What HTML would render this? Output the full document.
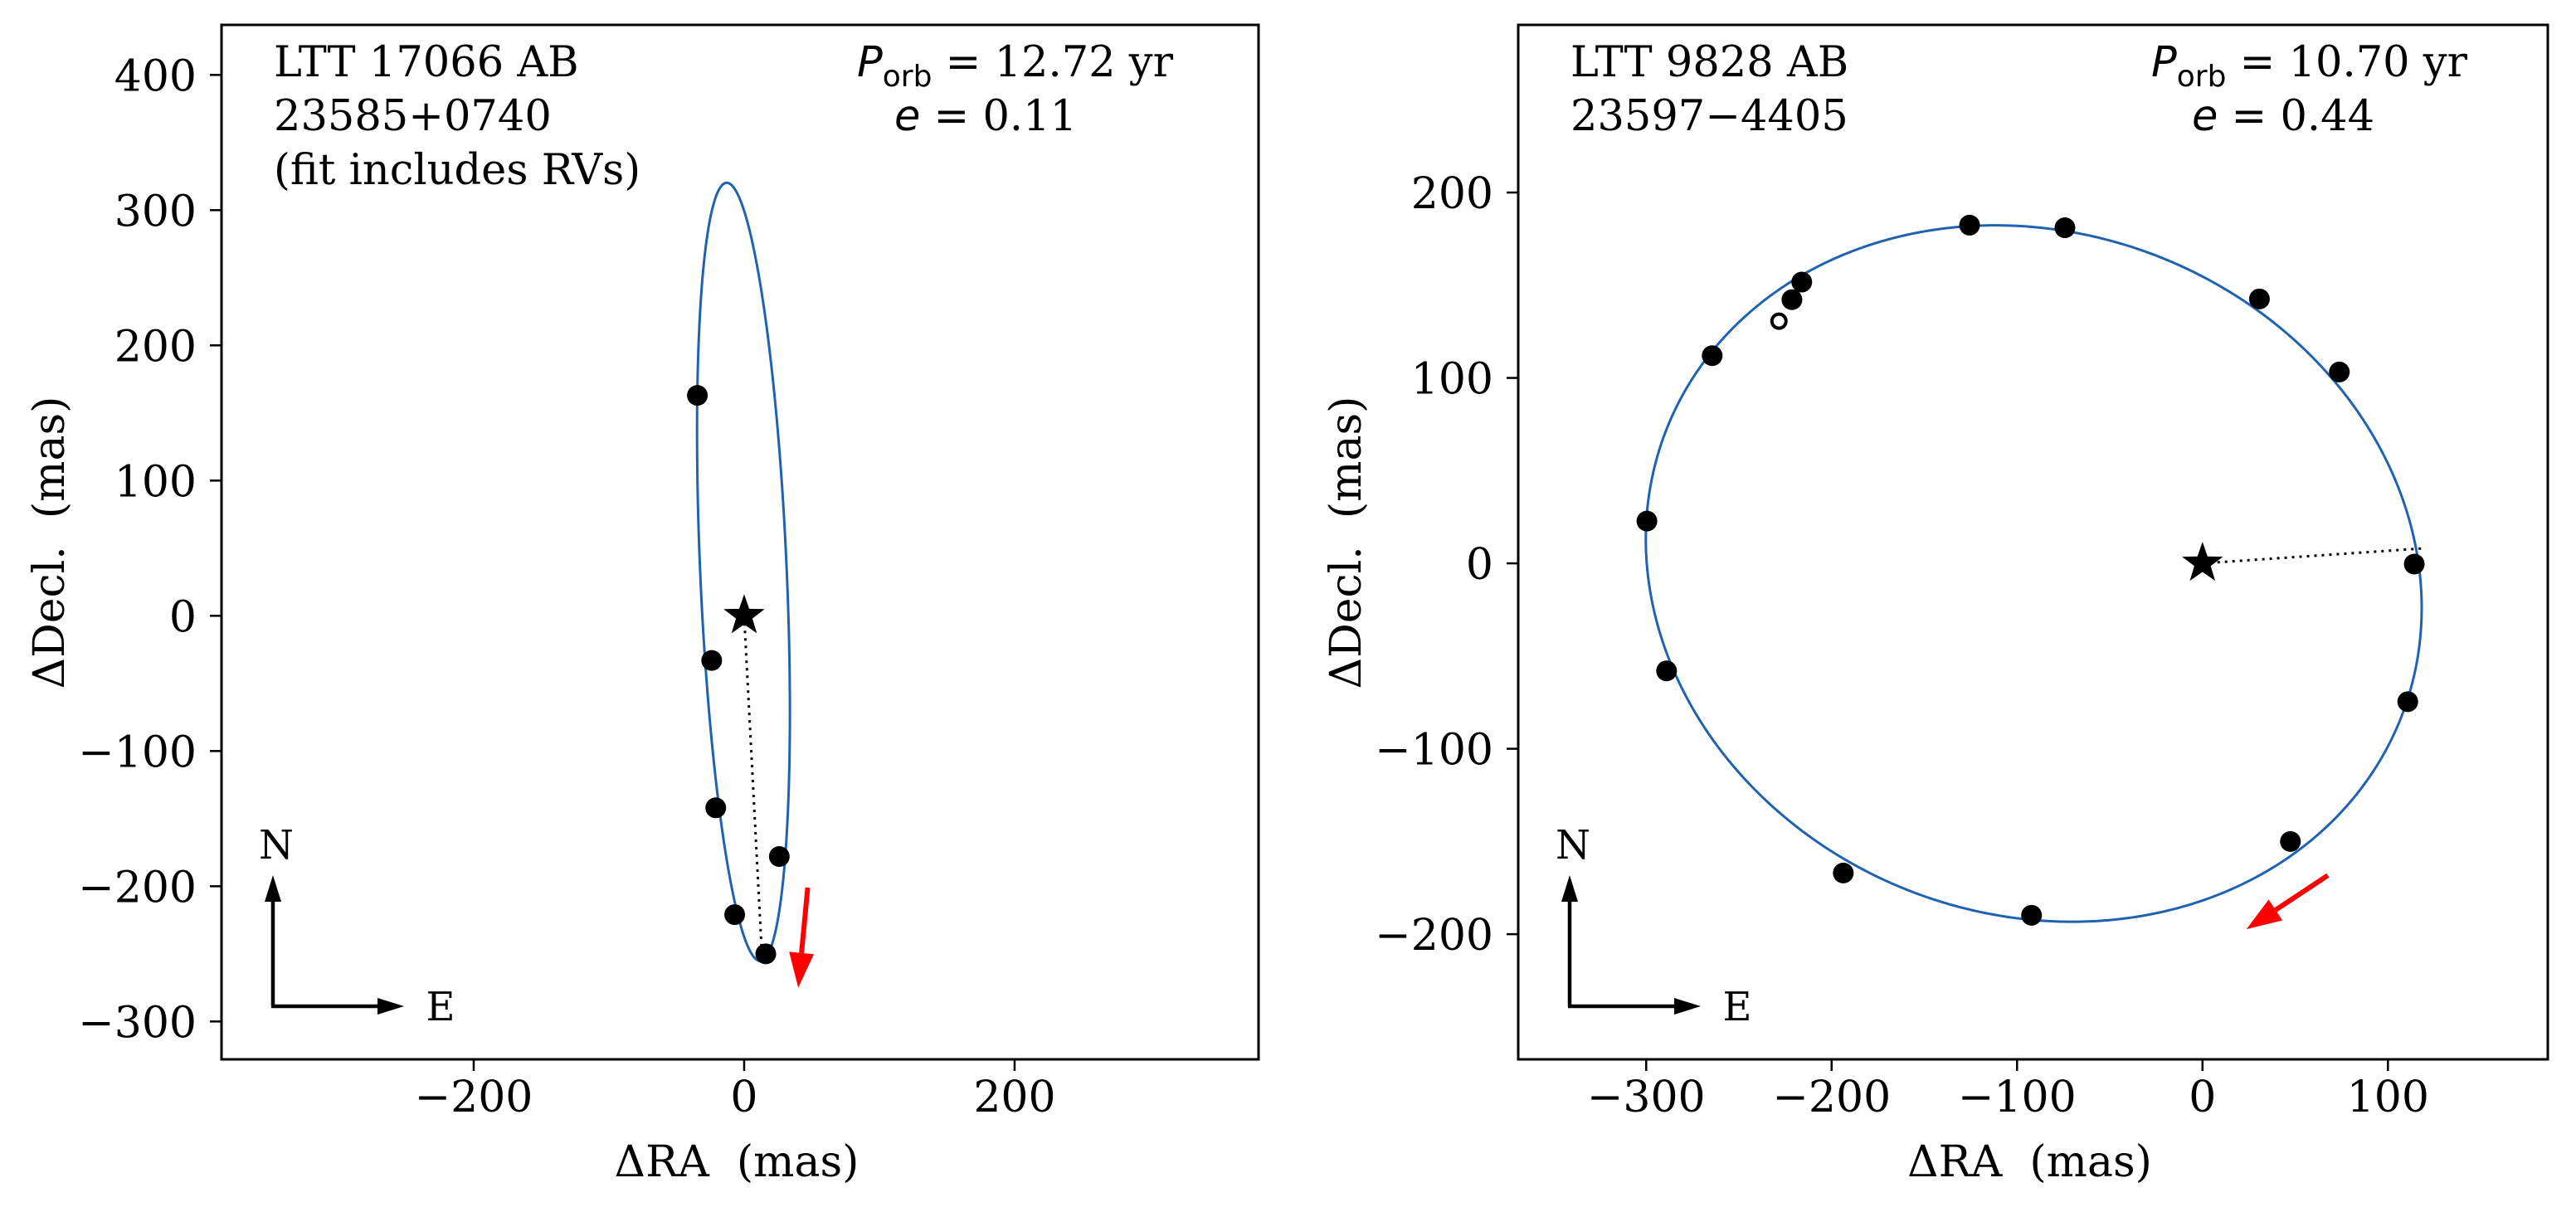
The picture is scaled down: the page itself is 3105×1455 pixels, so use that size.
<!DOCTYPE html>
<html><head><meta charset="utf-8">
<style>
html,body{margin:0;padding:0;background:#fff;overflow:hidden;}
svg{display:block;}
text{font-family:"DejaVu Serif","Liberation Serif",serif;fill:#000;}
.sans{font-family:"DejaVu Sans","Liberation Sans",sans-serif;}
</style></head>
<body>
<svg id="fig" width="3105" height="1455" viewBox="0 0 3105 1455" xmlns="http://www.w3.org/2000/svg">
</svg>
<script>
// ---- Left panel data (LTT 17066 AB) ----
const leftXTicks = [-200, 0, 200];
const leftYTicks = [-300, -200, -100, 0, 100, 200, 300, 400];
const leftPtsX = [-34.6, -24, -21, 26, -7, 16];
const leftPtsY = [163, -33, -142, -178, -221, -250];
const leftOrbit = {cx: -0.5, cy: 32.5, a: 288, b: 32, dirX: -25, dirY: 575};
const leftLine = [[0, 0], [13, -248]];
const leftArrow = [[47, -201], [40, -275]];
// ---- Right panel data (LTT 9828 AB) ----
const rightXTicks = [-300, -200, -100, 0, 100];
const rightYTicks = [-200, -100, 0, 100, 200];
const rightPtsX = [-125.6, -74.2, 30.7, 73.8, 114.2, 110.7, 47.4, -92.2, -193.7, -289, -299.6, -264.4, -221.4, -216.1];
const rightPtsY = [182.4, 181, 142.6, 103.2, -0.4, -74.6, -150, -189.8, -167, -58, 22.8, 112, 142.2, 151.7];
const rightOpenX = [-228.4];
const rightOpenY = [130.6];
const rightOrbit = {cx: -91, cy: -5.5, ax: 209, bx: -9, ay: -10.5, by: 187.5};
const rightLine = [[0, 0], [118, 8]];
const rightArrow = [[67.6, -168.3], [23.7, -197.3]];

const NS = "http://www.w3.org/2000/svg";
const svg = document.getElementById('fig');
function el(tag, attrs, parent) {
  const e = document.createElementNS(NS, tag);
  for (const k in attrs) e.setAttribute(k, attrs[k]);
  (parent || svg).appendChild(e);
  return e;
}
function makeAxes(box, xlim, ylim) {
  const sx = v => box.x0 + (v - xlim[0]) / (xlim[1] - xlim[0]) * (box.x1 - box.x0);
  const sy = v => box.y1 - (v - ylim[0]) / (ylim[1] - ylim[0]) * (box.y1 - box.y0);
  return {sx, sy};
}
function starPath(cx, cy, R) {
  const r = R * 0.4; let d = '';
  for (let i = 0; i < 10; i++) {
    const ang = -Math.PI / 2 + i * Math.PI / 5, rr = i % 2 ? r : R;
    d += (i ? 'L' : 'M') + (cx + rr * Math.cos(ang)).toFixed(1) + ',' + (cy + rr * Math.sin(ang)).toFixed(1);
  }
  return d + 'Z';
}
function drawPanel(p) {
  const g = el('g', {});
  
  
  const {sx, sy} = makeAxes(p.box, p.xlim, p.ylim);
  let d = '';
  for (let i = 0; i <= 720; i++) {
    const t = i / 720 * 2 * Math.PI;
    const [x, y] = p.orbitFn(t);
    d += (i ? 'L' : 'M') + sx(x).toFixed(2) + ',' + sy(y).toFixed(2);
  }
  const orb = el('path', {d, fill: 'none', stroke: '#1f63b0', 'stroke-width': 3}, g);
  
  
  const dl = el('line', {x1: sx(p.line[0][0]), y1: sy(p.line[0][1]), x2: sx(p.line[1][0]), y2: sy(p.line[1][1]), stroke: '#000', 'stroke-width': 3, 'stroke-dasharray': '3,6'}, g);
  
  
  for (let i = 0; i < p.px.length; i++) {
    const c = el('circle', {cx: sx(p.px[i]), cy: sy(p.py[i]), r: 12.5, fill: '#000'}, g);
    
    
  }
  for (let i = 0; i < (p.ox || []).length; i++) {
    const c = el('circle', {cx: sx(p.ox[i]), cy: sy(p.oy[i]), r: 8.5, fill: 'none', stroke: '#000', 'stroke-width': 4}, g);
    
    
  }
  const st = el('path', {d: starPath(sx(0), sy(0), 26), fill: '#000'}, g);
  
  
  const ax0 = sx(p.arrow[0][0]), ay0 = sy(p.arrow[0][1]), ax1 = sx(p.arrow[1][0]), ay1 = sy(p.arrow[1][1]);
  const ang = Math.atan2(ay1 - ay0, ax1 - ax0), hl = 42, hw = 15;
  const bx = ax1 - hl * Math.cos(ang), by = ay1 - hl * Math.sin(ang);
  const ra = el('g', {}, g);
  
  
  el('line', {x1: ax0, y1: ay0, x2: bx, y2: by, stroke: '#f00', 'stroke-width': 6}, ra);
  el('path', {d: `M${ax1},${ay1} L${bx - hw * Math.sin(ang)},${by + hw * Math.cos(ang)} L${bx + hw * Math.sin(ang)},${by - hw * Math.cos(ang)}Z`, fill: '#f00'}, ra);
  const fr = el('rect', {x: p.box.x0, y: p.box.y0, width: p.box.x1 - p.box.x0, height: p.box.y1 - p.box.y0, fill: 'none', stroke: '#000', 'stroke-width': 3}, g);
  
  
  p.xt.forEach(v => {
    const x = sx(v);
    el('line', {x1: x, y1: p.box.y1, x2: x, y2: p.box.y1 + 14, stroke: '#000', 'stroke-width': 2.5}, g);
    const t = el('text', {x, y: p.box.y1 + 63, 'text-anchor': 'middle', 'font-size': 52}, g);
    t.textContent = v < 0 ? '\u2212' + (-v) : String(v);
    
    
  });
  p.yt.forEach(v => {
    const y = sy(v);
    el('line', {x1: p.box.x0, y1: y, x2: p.box.x0 - 14, y2: y, stroke: '#000', 'stroke-width': 2.5}, g);
    const t = el('text', {x: p.box.x0 - 30, y: y + 19, 'text-anchor': 'end', 'font-size': 52}, g);
    t.textContent = v < 0 ? '\u2212' + (-v) : String(v);
    
    
  });
  const xl = el('text', {x: (p.box.x0 + p.box.x1) / 2 - 4, y: 1418, 'text-anchor': 'middle', 'font-size': 52}, g);
  xl.textContent = '\u0394RA\u00a0\u00a0(mas)';
  
  
  const yx = p.box.x0 - 190, yc = 654;
  const yl = el('text', {x: yx, y: yc, 'text-anchor': 'middle', 'font-size': 52, transform: `rotate(-90 ${yx} ${yc})`}, g);
  yl.textContent = '\u0394Decl.\u00a0\u00a0(mas)';
  
  
  const cp = el('g', {}, g);
  
  
  const c0x = p.box.x0 + 62, c0y = 1213;
  el('path', {d: `M${c0x},${c0y} L${c0x},${c0y - 130}`, stroke: '#000', 'stroke-width': 4.5, fill: 'none'}, cp);
  el('path', {d: `M${c0x},${c0y - 158} L${c0x - 10},${c0y - 126} L${c0x + 10},${c0y - 126}Z`, fill: '#000'}, cp);
  el('path', {d: `M${c0x - 2},${c0y} L${c0x + 130},${c0y}`, stroke: '#000', 'stroke-width': 4.5, fill: 'none'}, cp);
  el('path', {d: `M${c0x + 158},${c0y} L${c0x + 126},${c0y - 10} L${c0x + 126},${c0y + 10}Z`, fill: '#000'}, cp);
  const tn = el('text', {x: c0x + 4, y: 1035, 'text-anchor': 'middle', 'font-size': 48}, cp); tn.textContent = 'N';
  const te = el('text', {x: c0x + 202, y: 1230, 'text-anchor': 'middle', 'font-size': 48}, cp); te.textContent = 'E';
  p.labels.forEach((s, i) => {
    const t = el('text', {x: p.box.x0 + 63, y: 92 + i * 65, 'font-size': 51}, g);
    t.textContent = s;
    
    
  });
  const pt = el('text', {x: p.pRight, y: 92, 'text-anchor': 'end', 'font-size': 51}, g);
  
  
  pt.innerHTML = `<tspan class="sans" font-style="italic">P</tspan><tspan class="sans" font-size="36" dy="12">orb</tspan><tspan class="sans" dy="-12"> = </tspan><tspan>${p.period}</tspan>`;
  const et = el('text', {x: p.eCenter, y: 157, 'text-anchor': 'middle', 'font-size': 51}, g);
  
  
  et.innerHTML = `<tspan class="sans" font-style="italic">e</tspan><tspan class="sans"> = </tspan><tspan>${p.ecc}</tspan>`;
}
const Lang = Math.atan2(leftOrbit.dirY, leftOrbit.dirX);
drawPanel({
  name: 'left-panel-ltt17066',
  box: {x0: 267, x1: 1517, y0: 30, y1: 1277},
  xlim: [-386.5, 380.4], ylim: [-328, 437],
  orbitFn: t => {
    const u = leftOrbit.a * Math.cos(t), w = leftOrbit.b * Math.sin(t);
    return [leftOrbit.cx + u * Math.cos(Lang) - w * Math.sin(Lang), leftOrbit.cy + u * Math.sin(Lang) + w * Math.cos(Lang)];
  },
  px: leftPtsX, py: leftPtsY, line: leftLine, arrow: leftArrow,
  xt: leftXTicks, yt: leftYTicks,
  labels: ['LTT 17066 AB', '23585+0740', '(fit includes RVs)'],
  pRight: 1414, eCenter: 1188, period: '12.72 yr', ecc: '0.11'
});
drawPanel({
  name: 'right-panel-ltt9828',
  box: {x0: 1830, x1: 3071, y0: 30, y1: 1277},
  xlim: [-369, 186.2], ylim: [-267.5, 290.4],
  orbitFn: t => [rightOrbit.cx + rightOrbit.ax * Math.cos(t) + rightOrbit.bx * Math.sin(t),
                 rightOrbit.cy + rightOrbit.ay * Math.cos(t) + rightOrbit.by * Math.sin(t)],
  px: rightPtsX, py: rightPtsY, ox: rightOpenX, oy: rightOpenY, line: rightLine, arrow: rightArrow,
  xt: rightXTicks, yt: rightYTicks,
  labels: ['LTT 9828 AB', '23597\u22124405'],
  pRight: 2974, eCenter: 2752, period: '10.70 yr', ecc: '0.44'
});
</script>
</body></html>
